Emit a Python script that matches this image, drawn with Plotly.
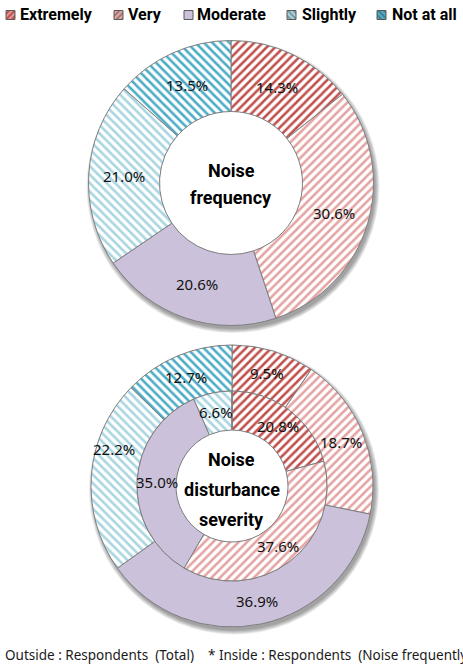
import math
import plotly.graph_objects as go

# ---- data -------------------------------------------------------------
CATEGORIES = ["Extremely", "Very", "Moderate", "Slightly", "Not at all"]
FREQUENCY = [14.3, 30.6, 20.6, 21.0, 13.5]            # noise frequency
SEVERITY_TOTAL = [9.5, 18.7, 36.9, 22.2, 12.7]        # outside ring: all respondents
SEVERITY_FREQUENT = [20.8, 37.6, 35.0, 6.6, 0.0]      # inside ring: noise frequently

NBSP = "\u00a0"
FOOTNOTE = (f"Outside{NBSP}:{NBSP}Respondents{NBSP}{NBSP}(Total){NBSP}{NBSP}{NBSP}{NBSP}"
            f"*{NBSP}Inside{NBSP}:{NBSP}Respondents{NBSP}{NBSP}(Noise{NBSP}frequently)")

# ---- style ------------------------------------------------------------
W, H = 463, 669
COLORS = ["#C0504D", "#E4A3A2", "#CCC1DA", "#A8D5E1", "#4BACC6"]
SHAPES = ["/", "/", "", "\\", "\\"]
EDGE = "#7F7F7F"
LABEL_FONT = "Noto Sans"
TITLE_FONT = "Roboto"

# ring geometry in pixels
TOP = dict(cx=231, cy=183, r=142.5, hole=71.5)
BOT = dict(cx=232, cy=486, r_out=141, r_mid=95, r_in=56)

# legend layout (pixels)
LEGEND_ICON_X = [10.5, 118.5, 188.5, 291.5, 381.5]
LEGEND_TEXT_X = [18, 126, 195, 300, 390]
LEGEND_Y = 15


def px(x):
    return x / W


def py(y):
    return 1 - y / H


def domain(cx, cy, r):
    return dict(x=[px(cx - r), px(cx + r)], y=[py(cy + r), py(cy - r)])


def pattern(size):
    return dict(shape=SHAPES, fgcolor=COLORS, bgcolor="white", size=size, solidity=0.42)


def ring(values, cx, cy, r, hole_r):
    return go.Pie(
        values=values, labels=CATEGORIES, sort=False, direction="clockwise",
        rotation=0, hole=hole_r / r, domain=domain(cx, cy, r),
        textinfo="none", hoverinfo="label+value", showlegend=False,
        marker=dict(colors=COLORS, line=dict(color=EDGE, width=1), pattern=pattern(6)),
    )


fig = go.Figure()
fig.add_trace(ring(FREQUENCY, TOP["cx"], TOP["cy"], TOP["r"], TOP["hole"]))
fig.add_trace(ring(SEVERITY_TOTAL, BOT["cx"], BOT["cy"], BOT["r_out"], BOT["r_mid"]))
fig.add_trace(ring(SEVERITY_FREQUENT, BOT["cx"], BOT["cy"], BOT["r_mid"], BOT["r_in"]))

# legend swatches as small patterned bars on a pixel-scaled axis
fig.add_trace(go.Bar(
    x=LEGEND_ICON_X, y=[9] * 5, base=[LEGEND_Y - 4.5] * 5, width=9,
    marker=dict(color=COLORS, line=dict(color="#595959", width=1), pattern=pattern(4)),
    hoverinfo="skip", showlegend=False,
))


def note(x, y, text, size, family, color="#000000", xanchor="center"):
    return dict(x=px(x), y=py(y), xref="paper", yref="paper", xanchor=xanchor,
                yanchor="middle", text=text, showarrow=False,
                font=dict(family=family, size=size, color=color))


annotations = [note(x, LEGEND_Y, f"<b>{name}</b>", 16, TITLE_FONT, xanchor="left")
               for x, name in zip(LEGEND_TEXT_X, CATEGORIES)]


def value_labels(values, cx, cy, r0, r1, offsets=None):
    offsets = offsets or {}
    total = sum(values)
    acc = 0.0
    out = []
    rm = (r0 + r1) / 2
    for i, v in enumerate(values):
        mid = (acc + v / 2) / total * 2 * math.pi
        acc += v
        if v <= 0:
            continue
        dx, dy = offsets.get(i, (0, 0))
        x = cx + rm * math.sin(mid) + dx
        y = cy - rm * math.cos(mid) + dy
        out.append(note(x, y, f"{v:.1f}%", 15, LABEL_FONT, color="#111111"))
    return out


annotations += value_labels(FREQUENCY, TOP["cx"], TOP["cy"], TOP["hole"], TOP["r"])
annotations += value_labels(SEVERITY_TOTAL, BOT["cx"], BOT["cy"], BOT["r_mid"], BOT["r_out"],
                            offsets={3: (0, -28)})
annotations += value_labels(SEVERITY_FREQUENT, BOT["cx"], BOT["cy"], BOT["r_in"], BOT["r_mid"])

# centre titles
for text, y in [("Noise", 170), ("frequency", 198)]:
    annotations.append(note(TOP["cx"], y, f"<b>{text}</b>", 18, TITLE_FONT))
for text, y in [("Noise", 460), ("disturbance", 489), ("severity", 519)]:
    annotations.append(note(BOT["cx"], y, f"<b>{text}</b>", 18, TITLE_FONT))

annotations.append(note(3, 655, FOOTNOTE, 13.5, LABEL_FONT, color="#1A1A1A", xanchor="left"))

# soft drop shadows under each donut, with the hole kept white
shapes = []


def shadow(cx, cy, r, hole_r):
    items = []
    for k in (5, 4, 3, 2, 1, 0):
        rr = r + k * 0.8
        ox, oy = cx + 2, cy + 3.5
        items.append(dict(type="circle", xref="paper", yref="paper", layer="below",
                          x0=px(ox - rr), x1=px(ox + rr), y0=py(oy + rr), y1=py(oy - rr),
                          fillcolor="rgba(0,0,0,0.07)", line=dict(width=0)))
    items.append(dict(type="circle", xref="paper", yref="paper", layer="below",
                      x0=px(cx - hole_r), x1=px(cx + hole_r),
                      y0=py(cy + hole_r), y1=py(cy - hole_r),
                      fillcolor="white", line=dict(width=0)))
    return items


shapes += shadow(TOP["cx"], TOP["cy"], TOP["r"], TOP["hole"])
shapes += shadow(BOT["cx"], BOT["cy"], BOT["r_out"], BOT["r_in"])

fig.update_layout(
    width=W, height=H, margin=dict(l=0, r=0, t=0, b=0),
    paper_bgcolor="white", plot_bgcolor="rgba(0,0,0,0)",
    xaxis=dict(range=[0, W], domain=[0, 1], visible=False, fixedrange=True),
    yaxis=dict(range=[H, 0], domain=[0, 1], visible=False, fixedrange=True),
    annotations=annotations, shapes=shapes, showlegend=False,
)

fig.write_html("out.html")
